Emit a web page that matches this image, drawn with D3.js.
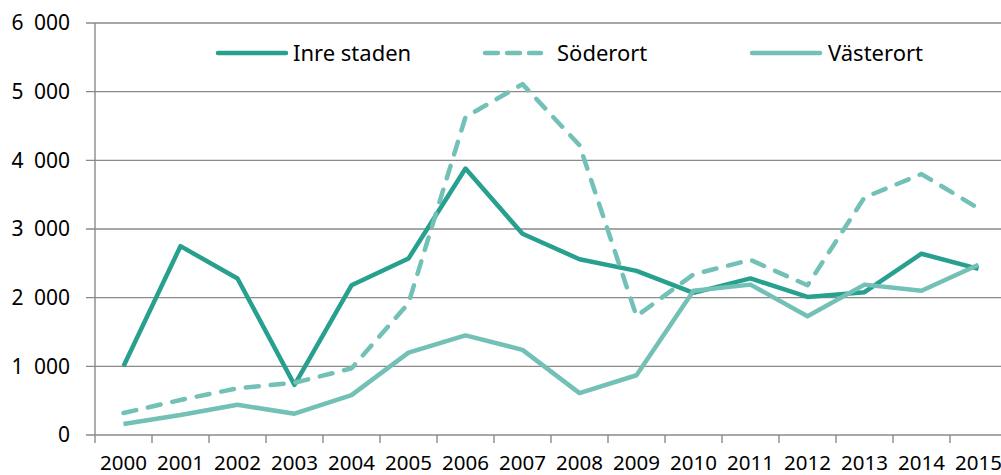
<!DOCTYPE html>
<html>
<head>
<meta charset="utf-8">
<script src="https://cdn.jsdelivr.net/npm/d3@7"></script>
<style>
  body { margin: 0; background: #fff; }
  svg { display: block; font-family: "Noto Sans", sans-serif; }
</style>
</head>
<body>
<svg id="chart" width="1001" height="475"></svg>
<script>
  // data
  var years = ['2000', '2001', '2002', '2003', '2004', '2005', '2006', '2007',
               '2008', '2009', '2010', '2011', '2012', '2013', '2014', '2015'];
  var inreStaden = [1000, 2750, 2280, 730, 2180, 2570, 3880, 2930,
                    2560, 2390, 2070, 2280, 2010, 2080, 2640, 2420];
  var soderort = [320, 510, 680, 760, 970, 1920, 4630, 5110,
                  4220, 1730, 2340, 2550, 2180, 3460, 3800, 3300];
  var vasterort = [160, 290, 440, 310, 580, 1200, 1450, 1240,
                   610, 870, 2100, 2190, 1730, 2190, 2100, 2480];
  var yTicks = [0, 1000, 2000, 3000, 4000, 5000, 6000];

  var series = [
    {name: 'Inre staden', values: inreStaden, color: '#28a08f', dash: null},
    {name: 'Söderort', values: soderort, color: '#72c0b6', dash: '13 12'},
    {name: 'Västerort', values: vasterort, color: '#72c0b6', dash: null}
  ];

  var svg = d3.select('#chart'),
      margin = {top: 23, right: -6, bottom: 40, left: 95},
      width = +svg.attr('width') - margin.left - margin.right,
      height = +svg.attr('height') - margin.top - margin.bottom,
      g = svg.append('g').attr('transform', 'translate(' + margin.left + ',' + margin.top + ')');

  var x = d3.scaleBand().domain(years).range([0, width]);
  var y = d3.scaleLinear().domain([0, 6000]).range([height, 0]);

  var gridColor = '#8a8a8a';

  // horizontal gridlines
  g.append('g')
      .attr('class', 'grid')
    .selectAll('line')
    .data(yTicks)
    .enter().append('line')
      .attr('x1', -9)
      .attr('x2', width)
      .attr('y1', function (d) { return y(d); })
      .attr('y2', function (d) { return y(d); })
      .attr('stroke', gridColor)
      .attr('stroke-width', 1.4);

  // y axis, thousands split by an en space
  var yAxis = d3.axisLeft(y)
      .tickValues(yTicks)
      .tickSize(0)
      .tickPadding(25)
      .tickFormat(function (d) { return d3.format(',')(d).replace(',', '\u2002'); });

  var yAxisGroup = g.append('g').attr('class', 'y axis').call(yAxis);
  yAxisGroup.select('.domain').remove();
  yAxisGroup.selectAll('text')
      .attr('fill', '#000')
      .style('font-size', '21px')
      .style('font-family', '"Noto Sans", sans-serif');

  g.append('line')
      .attr('x1', 0).attr('x2', 0)
      .attr('y1', 0).attr('y2', height)
      .attr('stroke', gridColor)
      .attr('stroke-width', 1.4);

  // x axis, ticks sit on category boundaries
  var xAxisGroup = g.append('g')
      .attr('class', 'x axis')
      .attr('transform', 'translate(0,' + height + ')');

  xAxisGroup.selectAll('line.tick')
      .data(years)
      .enter().append('line')
      .attr('class', 'tick')
      .attr('x1', function (d) { return x(d); })
      .attr('x2', function (d) { return x(d); })
      .attr('y1', 0).attr('y2', 8)
      .attr('stroke', gridColor)
      .attr('stroke-width', 1.4);

  xAxisGroup.selectAll('text')
      .data(years)
      .enter().append('text')
      .attr('x', function (d) { return x(d) + x.bandwidth() / 2; })
      .attr('y', 34.5)
      .attr('text-anchor', 'middle')
      .style('font-size', '20.5px')
      .text(function (d) { return d; });

  // lines
  var line = d3.line()
      .x(function (d, i) { return x(years[i]) + x.bandwidth() / 2; })
      .y(function (d) { return y(d); });

  g.selectAll('path.series')
      .data(series)
      .enter().append('path')
      .attr('class', 'series')
      .attr('d', function (d) { return line(d.values); })
      .attr('fill', 'none')
      .attr('stroke', function (d) { return d.color; })
      .attr('stroke-width', 4.5)
      .attr('stroke-linejoin', 'round')
      .attr('stroke-linecap', function (d) { return d.dash ? 'round' : 'butt'; })
      .attr('stroke-dasharray', function (d) { return d.dash; });

  // legend
  var legendX = [216, 483, 750];
  var legendTextX = [77, 74, 78];
  var legend = svg.append('g').attr('class', 'legend');
  var item = legend.selectAll('g')
      .data(series)
      .enter().append('g')
      .attr('transform', function (d, i) { return 'translate(' + legendX[i] + ',53)'; });

  item.append('line')
      .attr('x1', 2).attr('x2', function (d) { return d.dash ? 58 : 70; })
      .attr('y1', 0).attr('y2', 0)
      .attr('stroke', function (d) { return d.color; })
      .attr('stroke-width', 4.5)
      .attr('stroke-linecap', 'round')
      .attr('stroke-dasharray', function (d) { return d.dash ? '13 9' : null; });

  item.append('text')
      .attr('x', function (d, i) { return legendTextX[i]; })
      .attr('y', 8)
      .style('font-size', '22px')
      .text(function (d) { return d.name; });
</script>
</body>
</html>
